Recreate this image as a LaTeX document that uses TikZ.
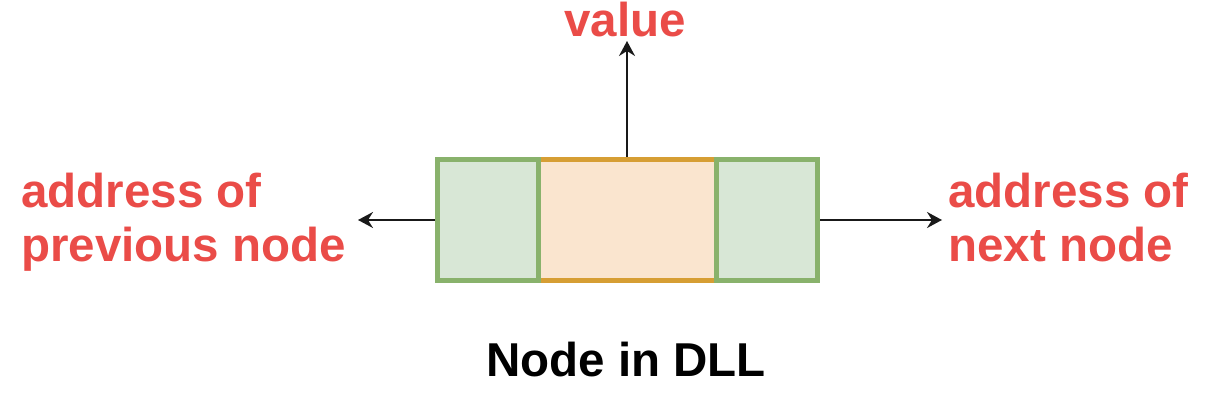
\documentclass[tikz,border=0pt]{standalone}
\usepackage{fontspec}
\setmainfont{Liberation Sans}
\usetikzlibrary{arrows.meta}
\definecolor{lblred}{RGB}{234,76,72}
\definecolor{gfill}{RGB}{216,231,214}
\definecolor{gdraw}{RGB}{137,178,108}
\definecolor{ofill}{RGB}{250,229,207}
\definecolor{odraw}{RGB}{214,158,52}
\tikzset{
  cellg/.style={draw=gdraw, fill=gfill, line width=2.5pt, inner sep=0pt, minimum height=60.5pt},
  cello/.style={draw=odraw, fill=ofill, line width=2.5pt, inner sep=0pt, minimum height=60.5pt},
  arr/.style={draw=black!90, line width=1pt, -{Stealth[length=7.5pt,width=8pt,inset=2.5pt]}},
  lbl/.style={text=lblred, font=\fontsize{23.75}{27}\selectfont\bfseries, inner sep=0pt, align=left},
  ttl/.style={text=black, font=\fontsize{23.75}{27}\selectfont\bfseries, inner sep=0pt}
}
\begin{document}
\begin{tikzpicture}[x=0.5pt,y=-0.5pt]
\useasboundingbox (0,0) rectangle (1220,406);
\node[cello, minimum width=89pt] (mid) at (627,220) {};
\node[cellg, minimum width=50.25pt] (prev) at (487.75,220) {};
\node[cellg, minimum width=50.75pt] (next) at (766.75,220) {};
\coordinate (pv) at (358,220);
\coordinate (nx) at (942,220);
\coordinate (vl) at (627,41);
\draw[arr] (prev.west) -- (pv);
\draw[arr] (next.east) -- (nx);
\draw[arr] (mid.north) -- (vl);
\node[lbl, anchor=base] (value) at (625,36.7) {value};
\node[lbl, anchor=base west] (prevtxt) at (21,262) {address of\\previous node};
\node[lbl, anchor=base west] (nexttxt) at (948,262) {address of\\next node};
\node[ttl, anchor=base] (title) at (626,376.7) {Node in DLL};
\end{tikzpicture}
\end{document}
